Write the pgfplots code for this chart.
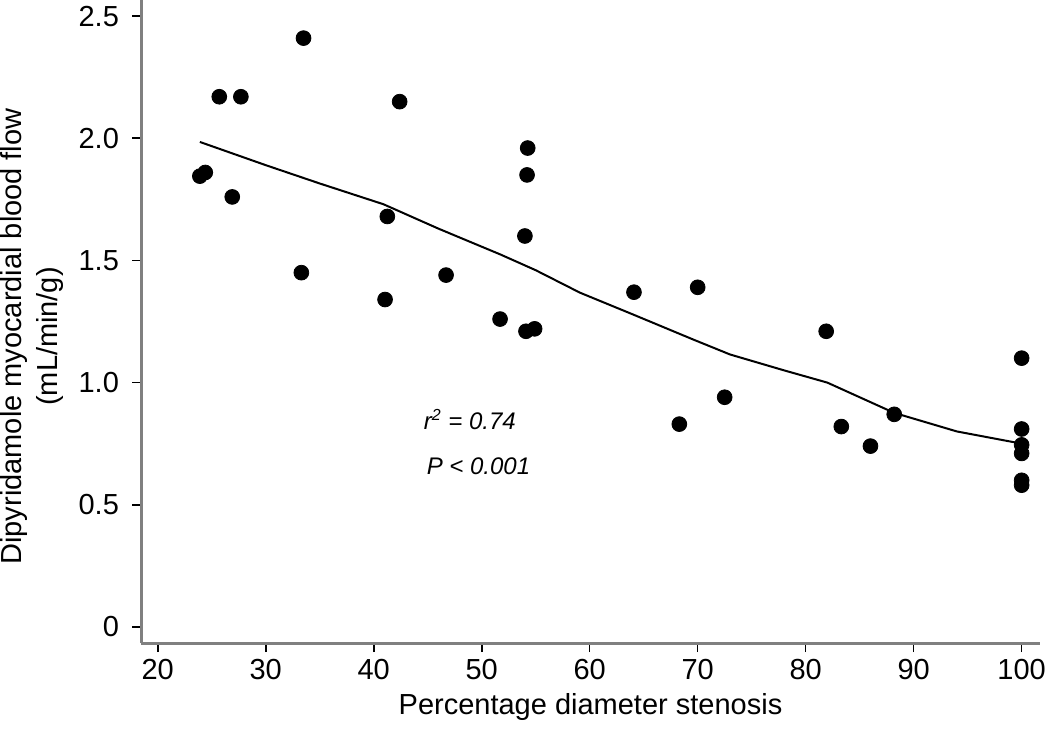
\documentclass[border=0pt]{standalone}
\usepackage{fontspec}
\setmainfont{Liberation Sans}
\usepackage{pgfplots}
\pgfplotsset{compat=1.18}

\begin{document}
\begin{tikzpicture}
\begin{axis}[
    scale only axis,
    width=449.5pt,
    height=321.5pt,
    xmin=18.45, xmax=101.7,
    ymin=-0.066, ymax=2.566,
    axis lines=left,
    axis line style={-, draw=gray, line width=1.5pt},
    tick style={black, line width=0.8pt},
    tick align=outside,
    major tick length=4.5pt,
    xtick={20,30,40,50,60,70,80,90,100},
    ytick={0,0.5,1,1.5,2,2.5},
    yticklabels={0,0.5,1.0,1.5,2.0,2.5},
    /pgf/number format/assume math mode=true,
    tick label style={font=\fontsize{14.5}{16}\selectfont},
    yticklabel style={xshift=-3pt},
    xlabel={Percentage diameter stenosis},
    ylabel={Dipyridamole myocardial blood flow\\(mL/min/g)},
    label style={font=\fontsize{14.5}{17}\selectfont},
    ylabel style={align=center, font=\fontsize{14.5}{18}\selectfont, xshift=-7.5pt, yshift=0.5pt},
    clip=false,
]
% stenosis vs flow
\addplot[only marks, mark=*, mark size=3.7pt, black] coordinates {
    (23.9,1.845) (24.4,1.86) (25.7,2.17) (27.7,2.17) (26.9,1.76)
    (33.5,2.41) (33.3,1.45) (41.05,1.34) (41.26,1.68) (42.4,2.15)
    (46.7,1.44) (51.7,1.26) (54.0,1.60) (54.2,1.85) (54.26,1.96)
    (54.1,1.21) (54.9,1.22) (64.1,1.37) (68.3,0.83) (70.0,1.39)
    (72.5,0.94) (81.9,1.21) (83.3,0.82) (86.0,0.74) (88.2,0.87)
    (100,1.10) (100,0.81) (100,0.745) (100,0.71) (100,0.60) (100,0.58)
};
% smoothed fit
\addplot[black, line width=1pt] coordinates {
    (23.9,1.985) (30,1.89) (35,1.815) (40.9,1.73) (46,1.63) (51.7,1.525)
    (55,1.46) (59.1,1.368) (64,1.279) (69.6,1.176) (73,1.115) (78,1.05)
    (82,1.0) (85,0.94) (88.2,0.876) (94,0.80) (100,0.75)
};
\node[font=\fontsize{12}{14}\selectfont\itshape] at (axis cs:48.9,0.848) {r\textsuperscript{2} = 0.74};
\node[font=\fontsize{12}{14}\selectfont\itshape] at (axis cs:49.7,0.656) {P < 0.001};
\coordinate (ll) at (rel axis cs:0,0);
\coordinate (ur) at (rel axis cs:1,1);
\end{axis}
\pgfresetboundingbox
\path[use as bounding box] ([xshift=-70.5pt,yshift=-43pt]ll) rectangle ([xshift=5pt]ur);
\end{tikzpicture}
\end{document}
